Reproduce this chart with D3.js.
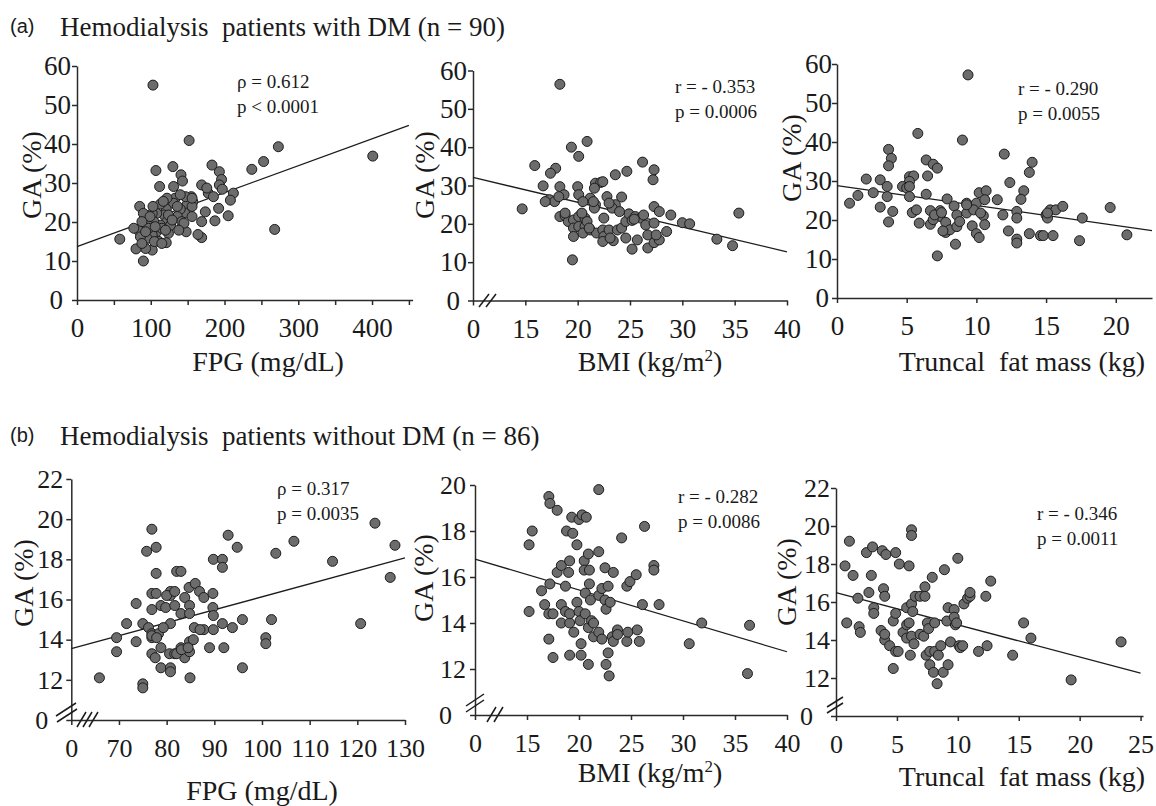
<!DOCTYPE html>
<html lang="en">
<head>
<meta charset="UTF-8">
<title>GA vs FPG, BMI and truncal fat mass</title>
<script src="https://d3js.org/d3.v7.min.js"></script>
<style>
  * { margin: 0; padding: 0; box-sizing: border-box; }
  body { background: #ffffff; width: 1156px; height: 806px; overflow: hidden; }
  text { fill: #1a1a1a; white-space: pre; }
  .dot { fill: #6c6c6c; stroke: #1c1c1c; stroke-width: 1; }
  .fit { stroke: #1c1c1c; stroke-width: 1.3; fill: none; }
  .axis path, .axis line { stroke: #2a2a2a; stroke-width: 1.5; }
  .brk { stroke: #1c1c1c; stroke-width: 1.5; }
</style>
</head>
<body>
<svg width="1156" height="806"></svg>
<script>
// ---- (a) patients with DM, n = 90 : [x, GA %]
const dmFpg = [[103,55.1],[152,40.9],[273,39.3],[401,36.9],[253,35.5],[237,33.5],[268,18.1],[58,15.6],[90,10],
  [107,33.2],[112,29.1],[130,34.2],[141,32.1],[143,30.5],[131,29.1],[183,34.6],[193,32.9],[196,30.9],[193,29.5],
  [197,28.4],[212,27.4],[208,25.6],[205,21.6],[192,23.5],[187,20.3],[169,29.5],[178,27.4],[185,26.5],[174,22.6],
  [169,20.1],[169,16],[164,16.8],[155,26.5],[157,25.2],[149,24.4],[147,26.5],[146,22.3],[140,23.3],[133,26.1],
  [131,24.8],[136,21.4],[142,20.1],[148,17.5],[122,26.1],[121,23.3],[113,24.6],[118,21.8],[122,20.1],[124,17.1],
  [121,14.7],[113,19.2],[108,22.2],[102,22.2],[104,20.1],[108,17.5],[102,16.7],[95,15.8],[102,12.8],[93,13.2],
  [85,24],[90,22.2],[83,17.9],[86,16.2],[80,13.1],[95,19.7],[97,18.4],[111,15],[115,18.4],[127,19.2],[140,27],
  [145,19.7],[88,14.5],[93,17.5],[106,18.8],[117,25.3],[136,24],[156,24],[105,15],[77,18.4],[124,21.8],[99,21.4],
  [156,21.4],[176,28.7],[120,17.9],[103,24],[129,20.5],[88,20.1],[115,14.5],[156,26.1],[138,17.9]];
const dmBmi = [[18.3,56.4],[20.9,41.5],[19.4,40],[20.1,37.6],[15.9,35.2],[17.9,34.5],[17.4,33.2],[16.7,29.9],
  [18.3,29.7],[17.3,26.3],[17.8,25.8],[18.7,27.6],[20,29.7],[20.1,27.6],[21.2,26.7],[21.7,30.6],[22.2,30.8],
  [21.6,29.3],[22.4,31],[23.6,32.8],[24.7,33.7],[26.2,36.1],[27.3,34.1],[27.2,31.5],[22.8,27.1],[24.2,27],
  [23.6,25],[23.3,24.1],[20.5,25.8],[21.7,25],[21.6,24.1],[14.7,23.9],[18.3,21.9],[18.8,22.1],[19.1,20.6],
  [19.6,21],[20.1,21.9],[20.7,21.5],[19.6,18.9],[19.6,16.7],[20.1,19.3],[20.7,19.3],[20.5,17.6],[21.2,18.4],
  [21.8,17.6],[22.5,21.5],[22.4,18.4],[22.5,16.7],[22.4,15.4],[23,18.4],[23.4,15.6],[23.8,18.4],[24.2,18.9],
  [24.6,20.6],[24.6,16.3],[24.9,22.6],[25.2,20.9],[25.5,21.9],[25.2,13.4],[25.7,15.8],[26,21.5],[26.3,22.3],
  [26.5,19.7],[26.7,17.1],[26.7,13.7],[27.3,20.2],[27.3,24.5],[27.3,15.1],[27.8,23.2],[27.8,15.8],[28.5,18],
  [28.9,22.3],[30,20.3],[30.7,20],[33.3,16],[34.8,14.3],[35.4,22.8],[19.5,10.6],[18.8,22.8],[20.9,20.6],
  [23.1,16.3],[18.2,27.1],[16.9,25.8],[23,25.4],[25.4,21.2],[27.5,17.1],[21.5,25.8],[24,23.2],[21.1,18.9],[20.4,22.8]];
const dmFat = [[9.4,57.2],[5.8,42.2],[9,40.5],[3.7,38.1],[3.9,35.8],[3.7,33.9],[6.4,35.4],[6.9,34.3],[7.2,33.3],
  [6.5,31.3],[12,36.9],[14,34.8],[13.8,32.2],[2.1,30.5],[3.1,30.3],[5.2,31.1],[5.5,31.3],[5.2,29.9],[4.7,28.6],
  [5,28.2],[3.6,28.6],[3.6,26],[2.6,27],[1.5,26.3],[0.9,24.3],[5.2,26],[6.4,26.6],[12.4,29.6],[13.4,27.5],
  [13.2,25.3],[11.5,25.2],[7.9,25.4],[8.4,23.6],[9.3,24.3],[10,24.3],[10.2,27],[10.7,27.5],[10.6,25.2],[3.1,23.3],
  [4,22.2],[5.4,21.9],[5.7,22.6],[6.7,22.4],[7.4,22.4],[7.4,20.9],[3.7,19.5],[5.9,19.2],[6.7,18.9],[6.9,20.1],
  [7.8,19.4],[7.8,16.8],[8.1,17.5],[8.6,18.3],[8.6,21.3],[9.3,21.8],[9.8,22.6],[9.7,18.5],[10,16.5],[10.2,15.5],
  [10.5,21.1],[10.6,18.8],[11.9,21.3],[12.3,17.2],[12.9,22.2],[12.9,20.5],[12.9,15.1],[12.9,14.1],[13.8,16.5],
  [14.6,16],[14.8,16],[15.5,16],[15,21.3],[15.1,20.5],[15.3,22.6],[15.7,22.6],[16.2,23.5],[17.6,20.5],[17.4,14.7],
  [19.6,23.2],[20.8,16.2],[7.2,10.8],[8.5,13.8],[15.1,21.8],[5.2,28.6],[9.3,23.9],[7,21.3],[7.6,17.2],[8.8,19.6],
  [10.3,21.8],[7.5,21.9]];

// ---- (b) patients without DM, n = 86
const noFpg = [[65.9,12.1],[69.5,14.1],[69.5,13.4],[71.6,14.8],[73.6,15.8],[73.6,13.9],[75,11.8],[75,11.6],[75,14.8],
  [75.8,18.4],[76.9,19.5],[77.8,18.6],[77.8,17.3],[76.9,16.3],[77.8,16.3],[76.9,15.5],[76.2,14.6],[76.9,14.3],
  [78.3,14.3],[76.9,14.1],[76.9,13.3],[77.6,13.1],[78.8,13.6],[78.8,12.6],[78.8,15.7],[79.8,15.6],[80.8,16.4],
  [80.8,16.2],[80.8,14.8],[80.6,13.3],[81.7,13.3],[80.8,12.6],[80.8,12.4],[81.7,15.7],[82.1,17.4],[83,17.4],
  [83,15.3],[83,13.6],[83.8,13.1],[83.8,16.1],[84.7,16.6],[84.8,15.7],[84.8,15.3],[84.8,13.9],[84.8,13.4],
  [84.9,12.1],[85.6,14],[85.8,14.6],[86,16.8],[86.9,16.4],[87.8,16.1],[87.8,14.5],[89,13.6],[89.7,16.3],[89.7,15.6],
  [89.8,15.2],[89.8,14.5],[89.8,18],[91.7,18],[91.7,17.6],[92,13.6],[91.7,14.8],[92.9,19.2],[93.8,14.6],[94.8,18.6],
  [95.9,15],[95.9,12.6],[100.8,14.1],[100.8,13.8],[102,15],[102.9,18.3],[106.7,18.9],[114.8,17.9],[120.7,14.8],
  [123.7,19.8],[127.9,18.7],[126.9,17.1],[79.3,14.6],[82.1,13.3],[83.1,13.5],[76.9,14.2],[80,16.2],[87,14.5],
  [77.9,14.1],[81.7,16.4],[84.5,13.6]];
const noBmi = [[15.2,14.5],[15.2,17.4],[15.5,18],[16.4,15.4],[16.7,14.8],[17.1,19.5],[17.2,19.2],[17.1,14.4],
  [17.1,13.3],[17.2,15.7],[17.5,14.4],[17.5,12.5],[17.9,18.9],[17.9,16.2],[18.3,16.5],[18.3,14.8],[18.3,14],
  [18.7,15.6],[18.7,14.5],[18.8,18],[19.1,16.7],[19,16.2],[19.1,12.6],[19.3,18.6],[19.4,17.9],[19.1,14],[19.5,13.6],
  [19.1,14.4],[19.8,17.4],[19.8,14.9],[20,18.5],[20,14.5],[20.1,14.1],[20.2,13.1],[20.2,12.6],[20.3,18.7],[20.5,16.7],
  [20.5,16.3],[20.6,15.3],[20.6,14.4],[20.7,18.6],[20.9,17],[20.9,13.8],[20.9,12.2],[21,16.3],[21,15.7],[21.1,15],
  [21.2,14.1],[21.4,13.4],[21.4,14],[21.9,15.2],[21.9,17.1],[21.9,19.8],[21.9,13.6],[22.2,13.3],[22.2,15.5],
  [22.5,16.4],[22.5,15],[22.6,14.6],[22.6,12.2],[22.8,12.7],[22.9,11.7],[22.8,15.6],[23,14.9],[23.2,13.4],[23.3,13.2],
  [23.3,16.2],[23.7,13.7],[23.7,13.5],[24.1,17.7],[24.6,15.6],[24.6,13.2],[24.7,13.6],[24.9,15.8],[25.5,16.1],
  [25.6,13.7],[25.8,13.2],[26.1,14.8],[26.3,18.2],[27.2,16.5],[27.2,16.3],[27.7,14.8],[30.6,13.1],[31.8,14],
  [36.4,13.9],[36.2,11.8]];
const noFat = [[0.74,17.9],[0.88,14.9],[1.1,19.2],[1.4,17.4],[1.8,16.2],[1.9,14.7],[2,14.4],[2.5,18.6],[2.7,16.5],
  [3,18.9],[2.9,17.4],[3.1,15.7],[3.1,15.4],[3.7,14.5],[3.8,18.7],[3.9,16.7],[4,16.3],[4.1,18.5],[4,14],[4,14.3],
  [4.4,13.7],[4.7,12.5],[4.7,15],[4.9,18.6],[4.9,13.4],[4.9,15.4],[5.1,13.4],[5.2,18],[5.5,14.4],[5.8,14.8],
  [5.8,14.1],[6,17.9],[6.1,13.2],[6.2,19.8],[6.2,19.5],[5.8,15.7],[6,14.9],[6.2,15.9],[6.3,15.5],[6.2,14.2],
  [6.4,13.8],[6.5,16.3],[6.9,16.3],[6.9,14.3],[7.2,14.2],[7.3,16.8],[7.5,14.9],[7.3,16.3],[7.4,13.2],[7.6,14.6],
  [7.7,12.7],[7.7,13.4],[7.9,17.3],[8,12.3],[8.1,13.4],[8.1,14.9],[8.3,11.7],[8.4,13.2],[8.6,13.7],[8.8,12.3],
  [8.9,17.7],[9.1,15],[9.2,12.7],[9.2,15.7],[9.4,13.9],[9.7,15.6],[9.7,15.2],[9.8,14.8],[9.9,14.9],[10,18.3],
  [10.1,13.7],[10.2,13.6],[10.4,13.7],[10.5,15.9],[10.8,16.2],[11,16.3],[11,16.5],[11.7,13.4],[12.3,16.3],
  [12.4,13.7],[12.7,17.1],[14.5,13.2],[15.4,14.9],[16,14.1],[19.3,11.9],[23.4,13.9]];

// regression line end points
const fitDmFpg = [[0,13.7],[450,44.8]];
const fitDmBmi = [[10,32.1],[40,12.7]];
const fitDmFat = [[0,28.8],[22.6,17.3]];
const fitNoFpg = [[60,13.55],[130,18.07]];
const fitNoBmi = [[10,16.78],[40,12.75]];
const fitNoFat = [[0,16.49],[25,12.26]];

// tick values
const ticksFpgA = [0,50,100,150,200,250,300,350,400,450];
const ticksBmi = [10,15,20,25,30,35,40];
const ticksFatA = [0,5,10,15,20];
const ticksFpgB = [60,70,80,90,100,110,120,130];
const ticksFatB = [0,5,10,15,20,25];
const ticksGaA = [0,10,20,30,40,50,60];
const ticksGaB4 = [10,12,14,16,18,20,22];
const ticksGaB5 = [10,12,14,16,18,20];

const statsText = [
  ["\u03c1 = 0.612", "p < 0.0001"], ["r = - 0.353", "p = 0.0006"], ["r = - 0.290", "p = 0.0055"],
  ["\u03c1 = 0.317", "p = 0.0035"], ["r = - 0.282", "p = 0.0086"], ["r = - 0.346", "p = 0.0011"]
];

const SERIF = '"Liberation Serif", "Times New Roman", "DejaVu Serif", serif';
const SANS = '"Liberation Sans", Arial, sans-serif';

const svg = d3.select("svg");

// zo / lo: offset of the origin "0" and of the other y tick labels from the axis
const panels = [
  { pts: dmFpg, fit: fitDmFpg, xd: [0,455], xr: [77,412.6], yd: [0,60], yr: [300,66],
    xt: ticksFpgA, yt: ticksGaA, xl: d => d % 100 === 0 ? d : "", fs: 27, zo: -14, lo: -6,
    xlab: "FPG (mg/dL)", xlx: 268, xly: 371, ylx: 31, yly: 175, st: 0, sx: 237, sy: 88 },
  { pts: dmBmi, fit: fitDmBmi, xd: [10,40], xr: [473,787], yd: [0,60], yr: [300.5,70.5],
    xt: ticksBmi, yt: ticksGaA, fs: 27, zo: -13, lo: -6, bmi: true,
    xlx: 650, xly: 371, ylx: 424, yly: 175, st: 1, sx: 675, sy: 93 },
  { pts: dmFat, fit: fitDmFat, xd: [0,22.6], xr: [837,1152], yd: [0,60], yr: [298,64],
    xt: ticksFatA, yt: ticksGaA, fs: 27, zo: -8, lo: -5,
    xlab: "Truncal  fat mass (kg)", xlx: 1022, xly: 371, ylx: 791, yly: 158, st: 2, sx: 1018, sy: 95 },
  { pts: noFpg, fit: fitNoFpg, xd: [60,130], xr: [71.3,405], yd: [10,22], yr: [720,479],
    xt: ticksFpgB, yt: ticksGaB4, fs: 26, zo: -23, lo: -8,
    xlab: "FPG (mg/dL)", xlx: 262, xly: 800, ylx: 23, yly: 583, st: 3, sx: 277, sy: 495 },
  { pts: noBmi, fit: fitNoBmi, xd: [10,40], xr: [475,787], yd: [10,20], yr: [715,485],
    xt: ticksBmi, yt: ticksGaB5, fs: 26, zo: -23, lo: -9, bmi: true,
    xlx: 650, xly: 782, ylx: 423, yly: 578, st: 4, sx: 678, sy: 503 },
  { pts: noFat, fit: fitNoFat, xd: [0,25.2], xr: [836,1143], yd: [10,22], yr: [716,488],
    xt: ticksFatB, yt: ticksGaB4, fs: 26, zo: -23, lo: -6,
    xlab: "Truncal  fat mass (kg)", xlx: 1022, xly: 786, ylx: 786, yly: 582, st: 5, sx: 1037, sy: 520 }
];

panels.forEach(p => {
  const x = d3.scaleLinear().domain(p.xd).range(p.xr);
  const y = d3.scaleLinear().domain(p.yd).range(p.yr);
  const g = svg.append("g");
  const x0 = p.xd[0], y0 = p.yd[0];

  // x axis
  const xa = g.append("g").attr("class", "axis")
    .attr("transform", `translate(0,${p.yr[0]})`)
    .call(d3.axisBottom(x).tickValues(p.xt).tickSize(5).tickSizeOuter(0)
      .tickFormat(p.xl ? p.xl : (d => d === x0 ? "0" : d)));
  xa.attr("font-family", null).attr("font-size", null);
  xa.selectAll("text").attr("font-size", p.fs).attr("y", 37).attr("dy", 0);

  // y axis
  const ya = g.append("g").attr("class", "axis")
    .attr("transform", `translate(${p.xr[0]},0)`)
    .call(d3.axisLeft(y).tickValues(p.yt).tickSize(5).tickSizeOuter(0)
      .tickFormat(d => d === y0 ? "0" : d));
  ya.attr("font-family", null).attr("font-size", null);
  ya.selectAll("text").attr("font-size", p.fs).attr("x", d => d === y0 ? p.zo : p.lo);

  // regression line
  g.append("path").attr("class", "fit")
    .attr("d", d3.line().x(d => x(d[0])).y(d => y(d[1]))(p.fit));

  // points
  g.append("g").selectAll("circle").data(p.pts).join("circle")
    .attr("class", "dot").attr("r", 5)
    .attr("cx", d => x(d[0])).attr("cy", d => y(d[1]));

  // axis titles
  const xt = g.append("text").attr("x", p.xlx).attr("y", p.xly)
    .attr("text-anchor", "middle").attr("font-size", 28);
  if (p.bmi) {
    xt.append("tspan").text("BMI (kg/m");
    xt.append("tspan").attr("font-size", 17).attr("dy", -10).text("2");
    xt.append("tspan").attr("dy", 10).text(")");
  } else {
    xt.text(p.xlab);
  }
  g.append("text").attr("transform", `translate(${p.ylx},${p.yly}) rotate(-90)`)
    .attr("text-anchor", "middle").attr("dy", "0.35em").attr("font-size", 28).text("GA (%)");

  // stats
  g.append("text").attr("x", p.sx).attr("y", p.sy).attr("font-size", 19).text(statsText[p.st][0]);
  g.append("text").attr("x", p.sx).attr("y", p.sy + 25).attr("font-size", 19).text(statsText[p.st][1]);
});

// axis break marks
const breaks = [
  [[479,307],[489,294]], [[486,307],[496,294]],
  [[56,716],[76,703]], [[57,722],[77,709]],
  [[77,727],[86,712]], [[83,727],[92,712]], [[89,727],[98,712]],
  [[466,706],[484,694]], [[466,712],[484,700]],
  [[487,722],[496,707]], [[494,722],[503,707]],
  [[827,707],[843,697]], [[827,713],[843,703]]
];
svg.append("g").selectAll("line").data(breaks).join("line").attr("class", "brk")
  .attr("x1", d => d[0][0]).attr("y1", d => d[0][1]).attr("x2", d => d[1][0]).attr("y2", d => d[1][1]);

// panel titles
const titles = [["(a)", "Hemodialysis  patients with DM (n = 90)", 36], ["(b)", "Hemodialysis  patients without DM (n = 86)", 445]];
titles.forEach(t => {
  svg.append("text").attr("class", "sans").attr("x", 10).attr("y", t[2] - 3).attr("font-size", 20).text(t[0]);
  svg.append("text").attr("x", 60).attr("y", t[2]).attr("font-size", 27).text(t[1]);
});

svg.selectAll("text").style("font-family", SERIF);
svg.selectAll("text.sans").style("font-family", SANS);
</script>
</body>
</html>
